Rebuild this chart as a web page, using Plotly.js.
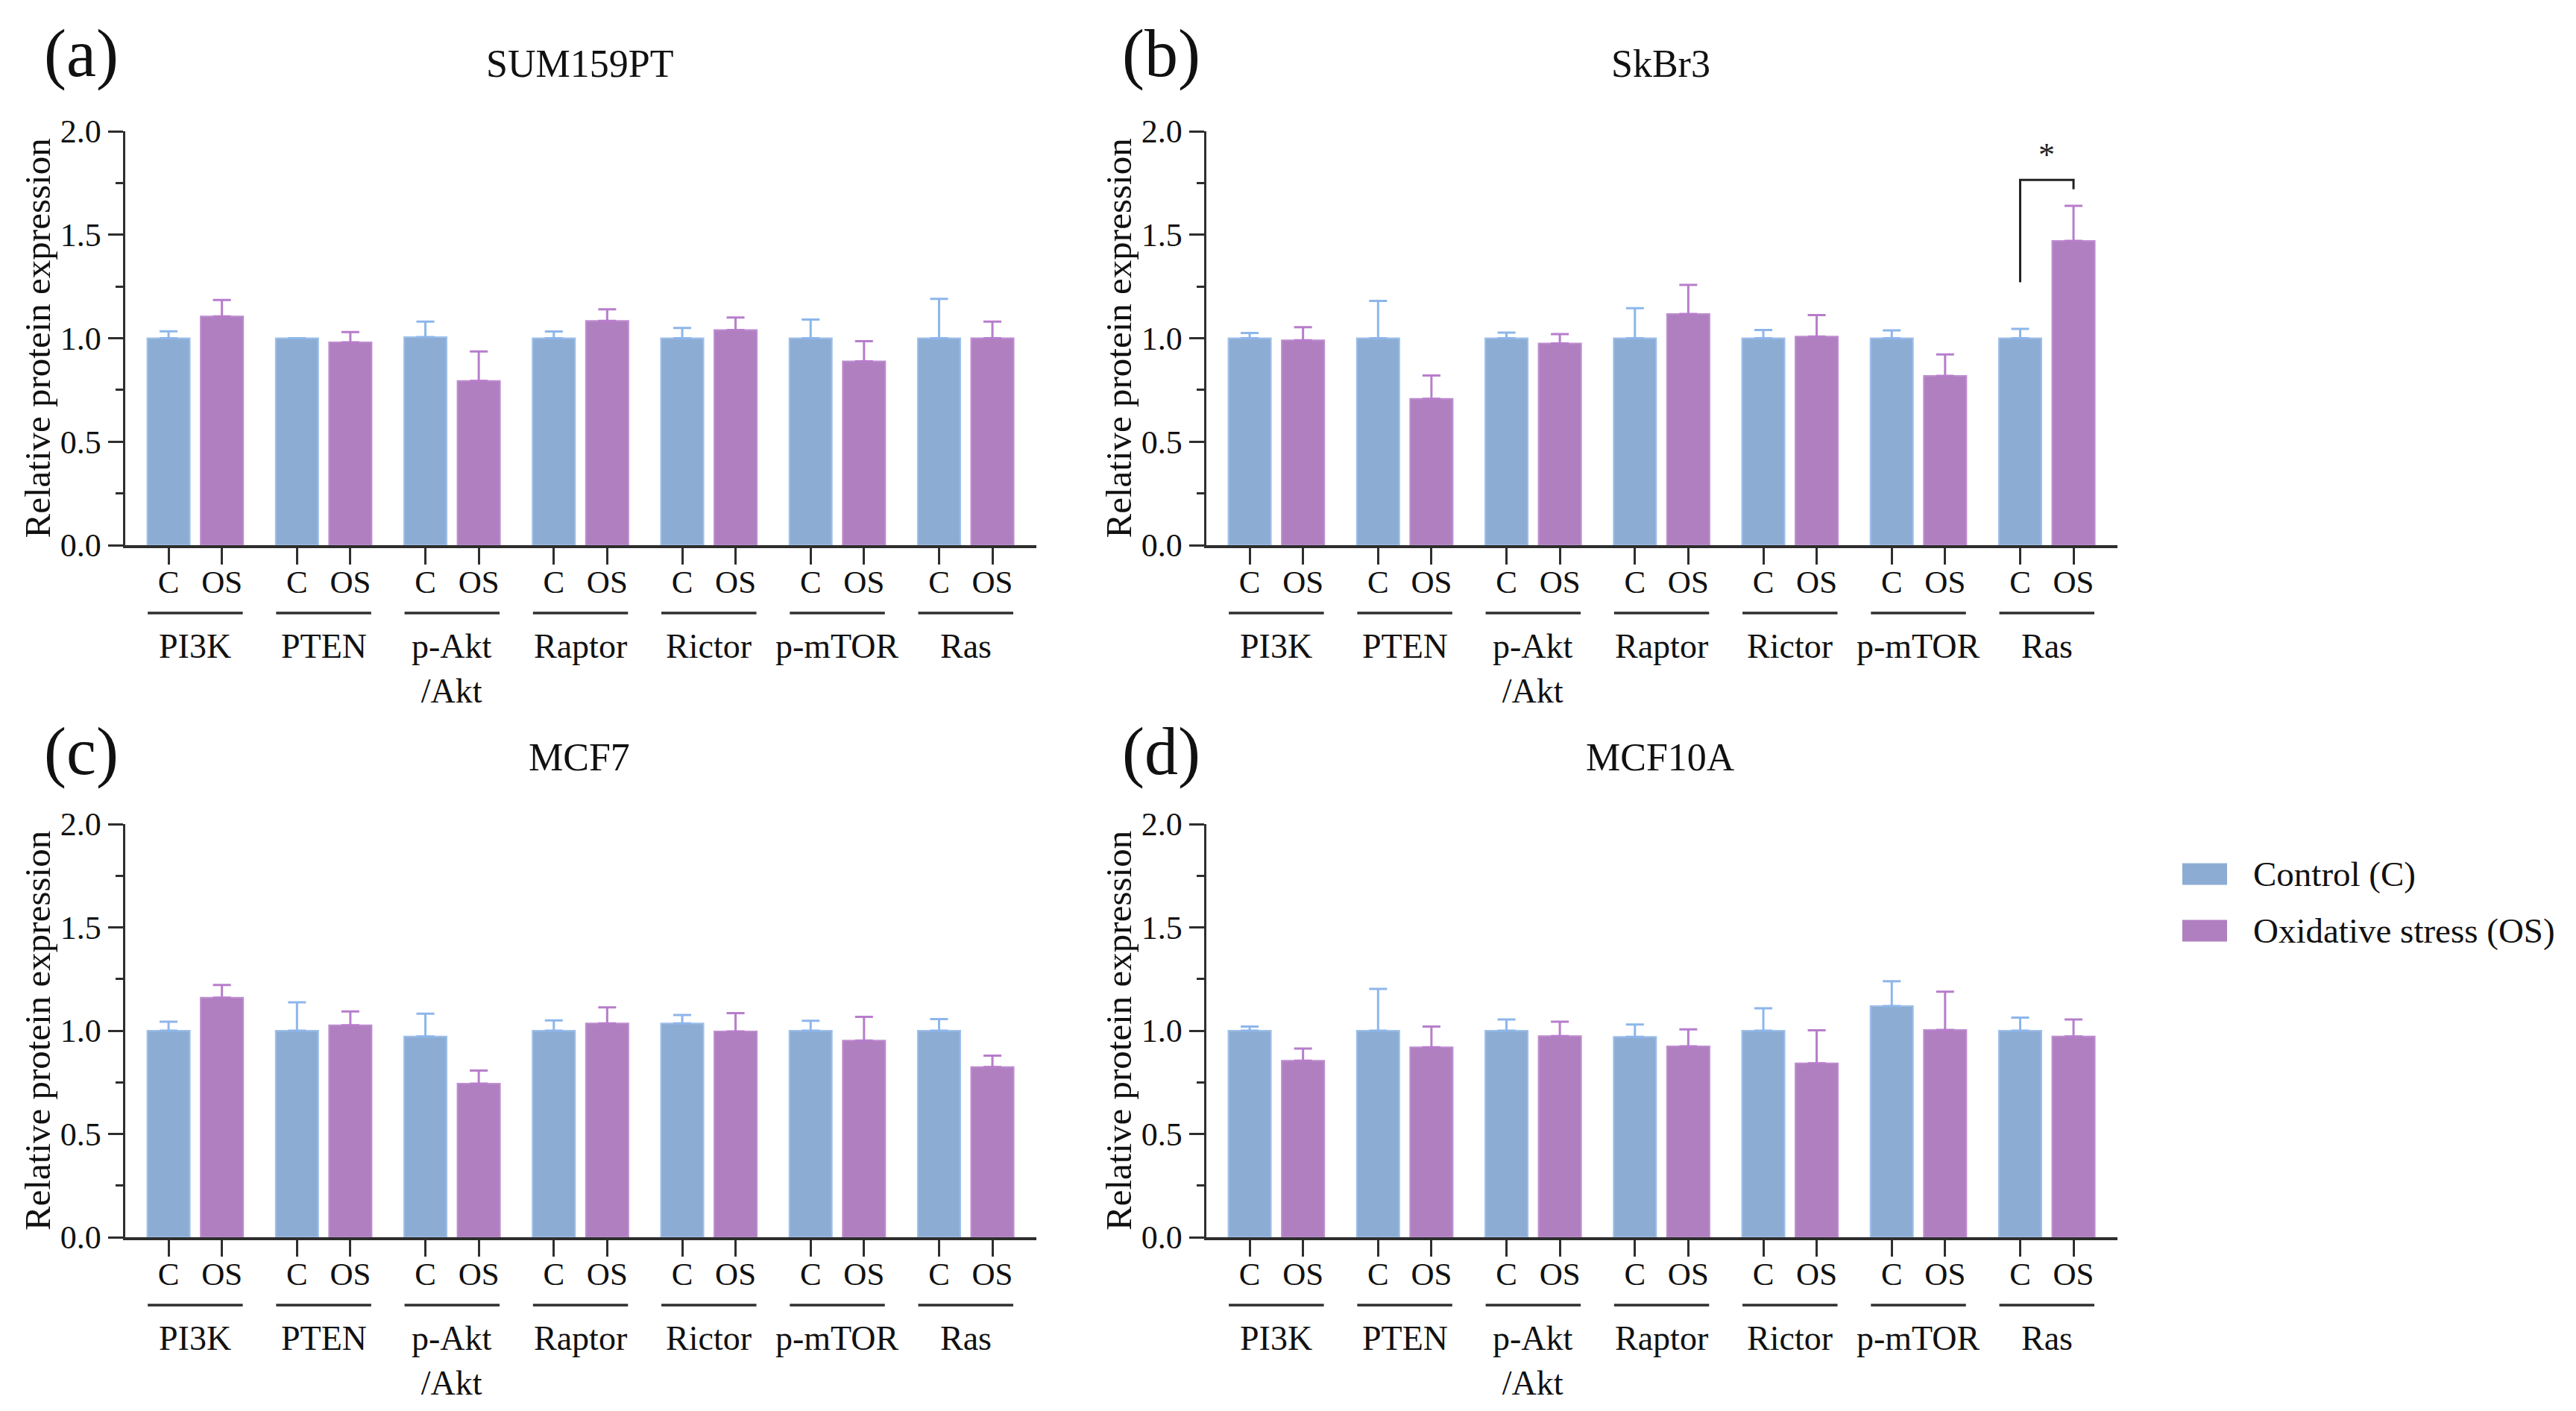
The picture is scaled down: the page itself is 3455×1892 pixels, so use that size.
<!DOCTYPE html>
<html>
<head>
<meta charset="utf-8">
<script src="https://cdn.plot.ly/plotly-3.0.1.min.js"></script>
<style>html,body{margin:0;padding:0;background:#fff;}#chart{width:3455px;height:1892px;}</style>
</head>
<body>
<div id="chart"></div>
<script>
// ---------------- data ----------------
const groups = ['PI3K', 'PTEN', 'p-Akt<br>/Akt', 'Raptor', 'Rictor', 'p-mTOR', 'Ras'];
const conditions = ['C', 'OS'];
const seriesNames = ['Control (C)', 'Oxidative stress (OS)'];
const panelTitles = ['SUM159PT', 'SkBr3', 'MCF7', 'MCF10A'];
const panelLetters = ['(a)', '(b)', '(c)', '(d)'];
const yTickVals = [0, 0.5, 1.0, 1.5, 2.0];
const yTickText = ['0.0', '0.5', '1.0', '1.5', '2.0'];
const yTitle = 'Relative protein expression';

const sum159C     = [1.00, 1.00, 1.005, 1.00, 1.00, 1.00, 1.00];
const sum159CErr  = [0.033, 0.0, 0.075, 0.032, 0.05, 0.09, 0.19];
const sum159OS    = [1.105, 0.98, 0.794, 1.084, 1.04, 0.888, 1.00];
const sum159OSErr = [0.08, 0.05, 0.142, 0.056, 0.06, 0.098, 0.08];

const skbr3C      = [1.00, 1.00, 1.00, 1.00, 1.00, 1.00, 1.00];
const skbr3CErr   = [0.025, 0.18, 0.027, 0.145, 0.04, 0.038, 0.045];
const skbr3OS     = [0.99, 0.707, 0.975, 1.117, 1.008, 0.818, 1.47];
const skbr3OSErr  = [0.063, 0.113, 0.045, 0.141, 0.104, 0.104, 0.17];

const mcf7C       = [1.00, 1.00, 0.972, 1.00, 1.035, 1.00, 1.00];
const mcf7CErr    = [0.043, 0.137, 0.11, 0.05, 0.041, 0.048, 0.056];
const mcf7OS      = [1.16, 1.026, 0.744, 1.035, 0.996, 0.952, 0.824];
const mcf7OSErr   = [0.061, 0.067, 0.063, 0.078, 0.089, 0.115, 0.055];

const mcf10aC     = [1.00, 1.00, 1.00, 0.97, 1.00, 1.119, 1.00];
const mcf10aCErr  = [0.02, 0.202, 0.054, 0.06, 0.108, 0.12, 0.063];
const mcf10aOS    = [0.855, 0.92, 0.974, 0.924, 0.842, 1.004, 0.972];
const mcf10aOSErr = [0.058, 0.10, 0.069, 0.082, 0.16, 0.185, 0.082];

// significance in SkBr3 (panel b), Ras
const sigGroupIndex = 6;
const sigLabel = '*';
const sigLeftLow = 1.27, sigTop = 1.765, sigRightLow = 1.72, sigStarY = 1.885;

// ---------------- styling ----------------
const W = 3455, H = 1892;
const FONT = 'Liberation Serif, Times New Roman, serif';
const AXIS = '#2e2e2e';
const blue = '#8CACD4', purple = '#B07FC0';
const blueEdge = '#9EC0EA', purpleEdge = '#BE8DD0';
const blueErr = '#8DB6EA', purpleErr = '#B77DCB';
const BARGAP = 0.169, BARGROUPGAP = 0.203;

const boxes = [
  {x0: 168, x1: 1390, yTop: 176, yBot: 731, titleY: 85, letterX: 109, letterY: 72, ytitleX: 50},
  {x0: 1618, x1: 2840, yTop: 176, yBot: 731, titleY: 85, letterX: 1557, letterY: 72, ytitleX: 1500},
  {x0: 168, x1: 1390, yTop: 1105, yBot: 1659, titleY: 1015, letterX: 109, letterY: 1008, ytitleX: 50},
  {x0: 1618, x1: 2840, yTop: 1105, yBot: 1659, titleY: 1015, letterX: 1557, letterY: 1008, ytitleX: 1500}
];
const px = v => v / W;
const py = v => 1 - v / H;

const panelData = [
  [sum159C, sum159CErr, sum159OS, sum159OSErr],
  [skbr3C, skbr3CErr, skbr3OS, skbr3OSErr],
  [mcf7C, mcf7CErr, mcf7OS, mcf7OSErr],
  [mcf10aC, mcf10aCErr, mcf10aOS, mcf10aOSErr]
];

const xIdx = groups.map((g, i) => i);
const half = (1 - BARGAP) / 4;
const tickVals = [], tickText = [];
xIdx.forEach(i => { tickVals.push(i - half, i + half); tickText.push(conditions[0], conditions[1]); });

const traces = [];
const layout = {
  width: W, height: H,
  margin: {l: 0, r: 0, t: 0, b: 0},
  paper_bgcolor: '#ffffff', plot_bgcolor: '#ffffff',
  barmode: 'group', bargap: BARGAP, bargroupgap: BARGROUPGAP,
  showlegend: false,
  font: {family: FONT, color: '#111'},
  annotations: [], shapes: []
};

panelData.forEach((d, p) => {
  const sfx = p === 0 ? '' : String(p + 1);
  const b = boxes[p];
  const xa = 'x' + sfx, ya = 'y' + sfx;
  traces.push({
    type: 'bar', name: seriesNames[0], x: xIdx, y: d[0], xaxis: xa, yaxis: ya,
    marker: {color: blue, line: {color: blueEdge, width: 2}},
    error_y: {type: 'data', symmetric: false, array: d[1], arrayminus: d[1].map(() => 0),
              color: blueErr, thickness: 3, width: 12}
  });
  traces.push({
    type: 'bar', name: seriesNames[1], x: xIdx, y: d[2], xaxis: xa, yaxis: ya,
    marker: {color: purple, line: {color: purpleEdge, width: 2}},
    error_y: {type: 'data', symmetric: false, array: d[3], arrayminus: d[3].map(() => 0),
              color: purpleErr, thickness: 3, width: 12}
  });
  layout['xaxis' + sfx] = {
    domain: [px(b.x0), px(b.x1)], anchor: ya, type: 'linear',
    range: [-0.545, 6.55], fixedrange: true,
    tickmode: 'array', tickvals: tickVals, ticktext: tickText,
    ticks: 'outside', ticklen: 22, tickwidth: 3, tickcolor: AXIS,
    ticklabelstandoff: -13,
    tickfont: {family: FONT, size: 43, color: '#111'},
    showline: true, linecolor: AXIS, linewidth: 3.5,
    showgrid: false, zeroline: false
  };
  layout['yaxis' + sfx] = {
    domain: [py(b.yBot), py(b.yTop)], anchor: xa,
    range: [0, 2], fixedrange: true,
    tickmode: 'array', tickvals: yTickVals, ticktext: yTickText,
    ticks: 'outside', ticklen: 20, tickwidth: 3, tickcolor: AXIS,
    minor: {tickmode: 'array', tickvals: [0.25, 0.75, 1.25, 1.75], ticks: 'outside', ticklen: 10, tickwidth: 3, tickcolor: AXIS, showgrid: false},
    tickfont: {family: FONT, size: 44, color: '#111'},
    showline: true, linecolor: AXIS, linewidth: 3.5,
    showgrid: false, zeroline: false
  };
  // panel title
  layout.annotations.push({text: panelTitles[p], xref: 'paper', yref: 'paper',
    x: px((b.x0 + b.x1) / 2 - 2), y: py(b.titleY), xanchor: 'center', yanchor: 'middle',
    showarrow: false, font: {family: FONT, size: 52, color: '#111'}});
  // letter
  layout.annotations.push({text: panelLetters[p], xref: 'paper', yref: 'paper',
    x: px(b.letterX), y: py(b.letterY), xanchor: 'center', yanchor: 'middle',
    showarrow: false, font: {family: FONT, size: 90, color: '#111'}});
  // y title
  layout.annotations.push({text: yTitle, xref: 'paper', yref: 'paper', textangle: -90,
    x: px(b.ytitleX), y: py((b.yTop + b.yBot) / 2), xanchor: 'center', yanchor: 'middle',
    showarrow: false, font: {family: FONT, size: 49, color: '#111'}});
  // group labels and underlines
  groups.forEach((g, i) => {
    layout.annotations.push({text: g, xref: xa, yref: 'paper', x: i, y: py(b.yBot + 108),
      xanchor: 'center', yanchor: 'top', showarrow: false,
      font: {family: FONT, size: 46, color: '#111'}});
    layout.shapes.push({type: 'line', xref: xa, yref: 'paper', x0: i - 0.37, x1: i + 0.37,
      y0: py(b.yBot + 91), y1: py(b.yBot + 91), line: {color: AXIS, width: 3.5}});
  });
});

// significance bracket (panel b)
layout.shapes.push({type: 'path', xref: 'x2', yref: 'y2',
  path: 'M' + (sigGroupIndex - half) + ',' + sigLeftLow + ' L' + (sigGroupIndex - half) + ',' + sigTop +
        ' L' + (sigGroupIndex + half) + ',' + sigTop + ' L' + (sigGroupIndex + half) + ',' + sigRightLow,
  line: {color: '#222', width: 3}});
layout.annotations.push({text: sigLabel, xref: 'x2', yref: 'y2', x: sigGroupIndex, y: sigStarY,
  xanchor: 'center', yanchor: 'middle', showarrow: false, font: {family: FONT, size: 44, color: '#222'}});

// legend (drawn manually)
const legendItems = [{name: seriesNames[0], color: blue, yc: 1172}, {name: seriesNames[1], color: purple, yc: 1248}];
legendItems.forEach(it => {
  layout.shapes.push({type: 'rect', xref: 'paper', yref: 'paper', x0: px(2927), x1: px(2987),
    y0: py(it.yc + 14.5), y1: py(it.yc - 14.5), fillcolor: it.color, line: {width: 0}});
  layout.annotations.push({text: it.name, xref: 'paper', yref: 'paper', x: px(3020), y: py(it.yc),
    xanchor: 'left', yanchor: 'middle', showarrow: false, font: {family: FONT, size: 47, color: '#111'}});
});

Plotly.newPlot('chart', traces, layout, {staticPlot: true, displayModeBar: false});
</script>
</body>
</html>
